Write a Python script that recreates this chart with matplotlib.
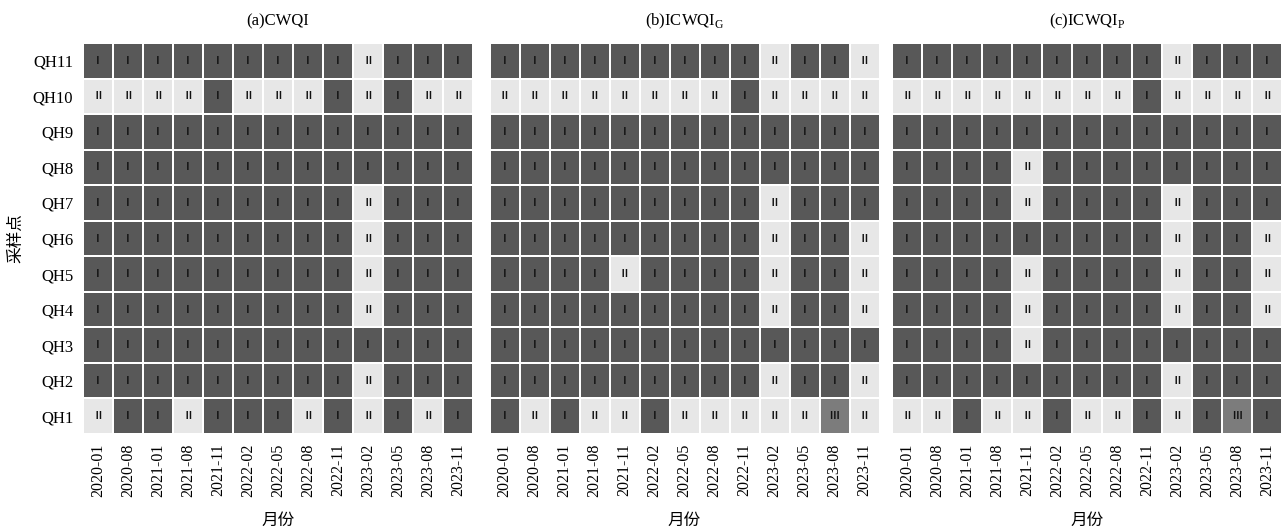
import numpy as np
import matplotlib
matplotlib.use('Agg')
import matplotlib.pyplot as plt
from matplotlib.colors import ListedColormap

plt.rcParams['font.family'] = ['Liberation Serif', 'Noto Sans CJK SC']
plt.rcParams['mathtext.fontset'] = 'custom'
plt.rcParams['mathtext.rm'] = 'Liberation Serif'

months = ['2020-01', '2020-08', '2021-01', '2021-08', '2021-11', '2022-02', '2022-05',
          '2022-08', '2022-11', '2023-02', '2023-05', '2023-08', '2023-11']
sites = ['QH11', 'QH10', 'QH9', 'QH8', 'QH7', 'QH6', 'QH5', 'QH4', 'QH3', 'QH2', 'QH1']
titles = ['(a)CWQI', r'(b)ICWQI$_\mathrm{G}$', r'(c)ICWQI$_\mathrm{P}$']
grade_names = {1: 'Ⅰ', 2: 'Ⅱ', 3: 'Ⅲ'}

# water quality grade per site (rows QH11..QH1) and month
cwqi = [
    [1, 1, 1, 1, 1, 1, 1, 1, 1, 2, 1, 1, 1],
    [2, 2, 2, 2, 1, 2, 2, 2, 1, 2, 1, 2, 2],
    [1, 1, 1, 1, 1, 1, 1, 1, 1, 1, 1, 1, 1],
    [1, 1, 1, 1, 1, 1, 1, 1, 1, 1, 1, 1, 1],
    [1, 1, 1, 1, 1, 1, 1, 1, 1, 2, 1, 1, 1],
    [1, 1, 1, 1, 1, 1, 1, 1, 1, 2, 1, 1, 1],
    [1, 1, 1, 1, 1, 1, 1, 1, 1, 2, 1, 1, 1],
    [1, 1, 1, 1, 1, 1, 1, 1, 1, 2, 1, 1, 1],
    [1, 1, 1, 1, 1, 1, 1, 1, 1, 1, 1, 1, 1],
    [1, 1, 1, 1, 1, 1, 1, 1, 1, 2, 1, 1, 1],
    [2, 1, 1, 2, 1, 1, 1, 2, 1, 2, 1, 2, 1],
]
icwqi_g = [
    [1, 1, 1, 1, 1, 1, 1, 1, 1, 2, 1, 1, 2],
    [2, 2, 2, 2, 2, 2, 2, 2, 1, 2, 2, 2, 2],
    [1, 1, 1, 1, 1, 1, 1, 1, 1, 1, 1, 1, 1],
    [1, 1, 1, 1, 1, 1, 1, 1, 1, 1, 1, 1, 1],
    [1, 1, 1, 1, 1, 1, 1, 1, 1, 2, 1, 1, 1],
    [1, 1, 1, 1, 1, 1, 1, 1, 1, 2, 1, 1, 2],
    [1, 1, 1, 1, 2, 1, 1, 1, 1, 2, 1, 1, 2],
    [1, 1, 1, 1, 1, 1, 1, 1, 1, 2, 1, 1, 2],
    [1, 1, 1, 1, 1, 1, 1, 1, 1, 1, 1, 1, 1],
    [1, 1, 1, 1, 1, 1, 1, 1, 1, 2, 1, 1, 2],
    [1, 2, 1, 2, 2, 1, 2, 2, 2, 2, 2, 3, 2],
]
icwqi_p = [
    [1, 1, 1, 1, 1, 1, 1, 1, 1, 2, 1, 1, 1],
    [2, 2, 2, 2, 2, 2, 2, 2, 1, 2, 2, 2, 2],
    [1, 1, 1, 1, 1, 1, 1, 1, 1, 1, 1, 1, 1],
    [1, 1, 1, 1, 2, 1, 1, 1, 1, 1, 1, 1, 1],
    [1, 1, 1, 1, 2, 1, 1, 1, 1, 2, 1, 1, 1],
    [1, 1, 1, 1, 1, 1, 1, 1, 1, 2, 1, 1, 2],
    [1, 1, 1, 1, 2, 1, 1, 1, 1, 2, 1, 1, 2],
    [1, 1, 1, 1, 2, 1, 1, 1, 1, 2, 1, 1, 2],
    [1, 1, 1, 1, 2, 1, 1, 1, 1, 1, 1, 1, 1],
    [1, 1, 1, 1, 1, 1, 1, 1, 1, 2, 1, 1, 1],
    [2, 2, 1, 2, 2, 1, 2, 2, 1, 2, 1, 3, 1],
]

cmap = ListedColormap(['#585858', '#e7e7e7', '#7c7c7c'])

fig = plt.figure(figsize=(12.86, 5.30), dpi=100)
lefts = [83, 489.5, 892]
W, H = 1286.0, 530.0

for k, grid in enumerate([cwqi, icwqi_g, icwqi_p]):
    data = np.array(grid)
    ax = fig.add_axes([lefts[k] / W, (H - 434) / H, 390 / W, 391 / H])
    ax.pcolormesh(data, cmap=cmap, vmin=0.5, vmax=3.5, edgecolors='white', linewidth=1.2)
    ax.set_xlim(0, len(months))
    ax.set_ylim(len(sites), 0)
    for i in range(data.shape[0]):
        for j in range(data.shape[1]):
            ax.text(j + 0.5, i + 0.5, grade_names[data[i, j]], ha='center', va='center',
                    fontsize=7, fontweight='bold', color='#111111',
                    family=['Noto Sans CJK SC'])
    for s in ax.spines.values():
        s.set_visible(False)
    ax.set_xticks(np.arange(len(months)) + 0.5)
    ax.set_xticklabels(months, rotation=90, fontsize=11.5)
    ax.set_yticks(np.arange(len(sites)) + 0.5)
    if k == 0:
        ax.set_yticklabels(sites, fontsize=12)
    else:
        ax.set_yticklabels([])
    ax.tick_params(length=0, pad=7)
    ax.set_title(titles[k], fontsize=12, pad=13)
    ax.set_xlabel('月份', fontsize=12, labelpad=11, family=['Noto Sans CJK SC'])

fig.text(16 / W, 1 - 238 / H, '采样点', rotation=90, ha='center', va='center',
         fontsize=12, family=['Noto Sans CJK SC'])

plt.savefig('out.png', dpi=100)
